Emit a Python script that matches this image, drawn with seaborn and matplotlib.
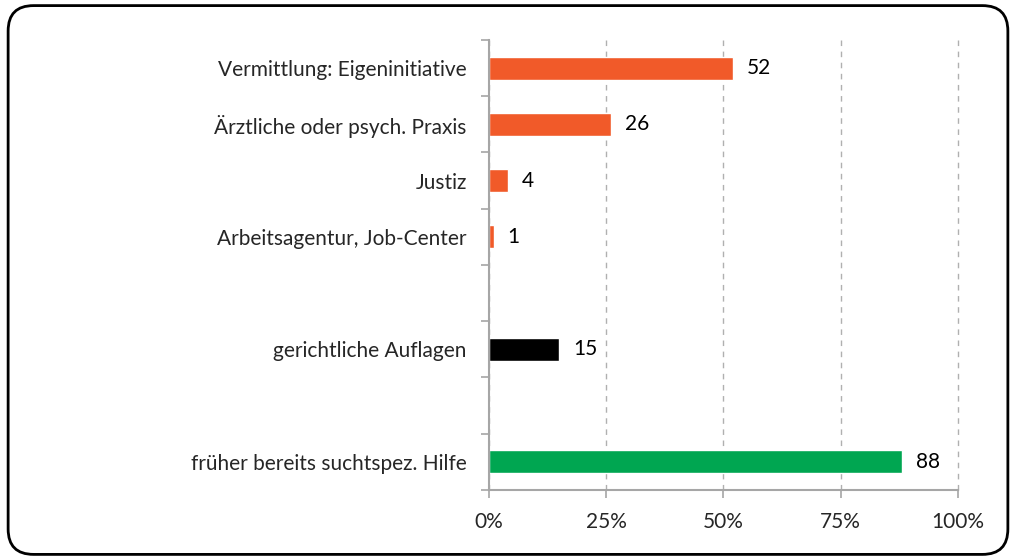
import pandas as pd
import seaborn as sns
import matplotlib.pyplot as plt
from matplotlib.patches import FancyBboxPatch

# categories (blank entries are empty slots in the chart)
labels = ["Vermittlung: Eigeninitiative", "Ärztliche oder psych. Praxis", "Justiz",
          "Arbeitsagentur, Job-Center", "", "gerichtliche Auflagen", " ",
          "früher bereits suchtspez. Hilfe"]
values = [52, 26, 4, 1, None, 15, None, 88]
colors = ["#F15A29", "#F15A29", "#F15A29", "#F15A29", "#FFFFFF", "#000000", "#FFFFFF", "#00A651"]
xticks = [0, 25, 50, 75, 100]

df = pd.DataFrame({"label": labels, "value": values}).dropna()
palette = dict(zip(labels, colors))

sns.set_style("white")
plt.rcParams['font.family'] = ['Lato', 'DejaVu Sans']
fs = 15

fig = plt.figure(figsize=(10.16, 5.6), dpi=100)
ax = fig.add_axes([0.4813, 0.125, 0.4616, 0.8036])

sns.barplot(data=df, x="value", y="label", order=labels, hue="label", palette=palette,
            legend=False, width=0.41, saturation=1, ax=ax)

for i, v in enumerate(values):
    if v is not None:
        ax.annotate(str(v), (v, i), xytext=(10, 0), textcoords="offset points",
                    va="center", ha="left", fontsize=fs, color="black")

ax.set_xlim(0, 100)
ax.set_ylim(len(labels) - 0.5, -0.5)
ax.set_xticks(xticks)
ax.set_xticklabels([f"{t}%" for t in xticks], fontsize=fs)
ax.set_yticks(range(len(labels)))
ax.set_yticklabels(labels, fontsize=fs)
ax.set_yticks([i - 0.5 for i in range(len(labels) + 1)], minor=True)
ax.tick_params(axis="y", which="both", left=True)
ax.tick_params(axis="y", which="major", length=0, pad=16)
ax.tick_params(axis="y", which="minor", length=6, color="#A6A6A6", width=1.2)
ax.tick_params(axis="x", bottom=True, length=6, color="#A6A6A6", width=1.2, pad=10)
ax.set_xlabel("")
ax.set_ylabel("")

ax.xaxis.grid(True, linestyle=(0, (4, 4)), color="#B0B0B0", linewidth=1)
for gl in ax.get_xgridlines():
    gl.set_clip_on(False)
ax.set_axisbelow(True)
for side in ["top", "right"]:
    ax.spines[side].set_visible(False)
for side in ["left", "bottom"]:
    ax.spines[side].set_color("#A6A6A6")
    ax.spines[side].set_linewidth(1.5)

border = FancyBboxPatch((0.008, 0.01), 0.984, 0.98, boxstyle="round,pad=0,rounding_size=0.025",
                        transform=fig.transFigure, fill=False, edgecolor="black", linewidth=2,
                        mutation_aspect=1016 / 560)
fig.patches.append(border)

fig.savefig("out.png", dpi=100)
